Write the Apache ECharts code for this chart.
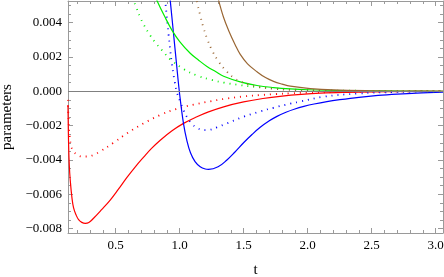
<!DOCTYPE html>
<html><head><meta charset="utf-8">
<script src="https://cdn.jsdelivr.net/npm/echarts@6/dist/echarts.min.js"></script>
<style>html,body{margin:0;padding:0;background:#fff}#c{width:444px;height:277px}</style>
</head><body><div id="c"></div>
<script>
// ---- data (t, value) ----
const redSolid = [[0.127,-0.0008],[0.132,-0.0031],[0.138,-0.0044],[0.145,-0.0052],[0.158,-0.0062],[0.171,-0.0068],[0.19,-0.0072],[0.21,-0.00748],[0.235,-0.00764],[0.262,-0.0077],[0.29,-0.00765],[0.327,-0.0074],[0.39,-0.0069],[0.457,-0.00634],[0.52,-0.00572],[0.588,-0.00502],[0.65,-0.00443],[0.718,-0.00384],[0.78,-0.00333],[0.848,-0.00285],[0.94,-0.0023],[1.03,-0.00187],[1.13,-0.0015],[1.225,-0.0012],[1.35,-0.00089],[1.499,-0.00062],[1.65,-0.00042],[1.8,-0.00028],[1.95,-0.00018],[2.1,-0.00011],[2.3,-0.00006],[2.5,-0.00003],[2.75,-0.00001],[3.057,0]];
const redDotted = [[0.127,-0.0005],[0.132,-0.0017],[0.14,-0.0026],[0.152,-0.0032],[0.171,-0.0035],[0.2,-0.0037],[0.24,-0.0038],[0.28,-0.0038],[0.33,-0.0037],[0.379,-0.0035],[0.483,-0.003],[0.588,-0.00245],[0.718,-0.00187],[0.848,-0.00138],[0.97,-0.00104],[1.108,-0.00078],[1.24,-0.00058],[1.369,-0.00042],[1.5,-0.0003],[1.629,-0.00022],[1.75,-0.00016],[1.864,-0.00012],[2.0,-0.00008],[2.2,-0.00005],[2.5,-0.00002],[2.8,-0.00001],[3.057,0]];
const blueSolid = [[0.915,0.0061],[0.926,0.0053],[0.95,0.0035],[0.975,0.0016],[1.0,-0.0002],[1.03,-0.0019],[1.057,-0.0029],[1.085,-0.0036],[1.12,-0.0041],[1.16,-0.0044],[1.2,-0.00453],[1.225,-0.00455],[1.3,-0.0044],[1.369,-0.004],[1.43,-0.00355],[1.499,-0.003],[1.565,-0.00252],[1.629,-0.0021],[1.7,-0.00172],[1.76,-0.00146],[1.83,-0.00122],[1.9,-0.00103],[1.97,-0.00088],[2.05,-0.00074],[2.15,-0.0006],[2.25,-0.00049],[2.4,-0.00035],[2.55,-0.00024],[2.7,-0.00016],[2.85,-0.0001],[3.057,-0.00005]];
const blueDotted = [[0.878,0.0061],[0.887,0.0053],[0.913,0.0033],[0.939,0.0016],[0.96,0.0006],[0.98,-0.0001],[1.004,-0.0006],[1.03,-0.0011],[1.057,-0.0015],[1.095,-0.0019],[1.135,-0.00213],[1.17,-0.00223],[1.213,-0.00226],[1.29,-0.0021],[1.369,-0.00187],[1.499,-0.00148],[1.629,-0.00117],[1.733,-0.00096],[1.864,-0.00072],[1.942,-0.0006],[2.12,-0.00032],[2.39,-0.00013],[2.7,-0.00004],[3.057,-0.00001]];
const greenSolid = [[0.8,0.0057],[0.822,0.0053],[0.88,0.0044],[0.939,0.00357],[1.0,0.0029],[1.082,0.00222],[1.15,0.0018],[1.213,0.00145],[1.28,0.00115],[1.343,0.00088],[1.473,0.00055],[1.604,0.00034],[1.733,0.00022],[1.864,0.00014],[2.0,0.00009],[2.3,0.00004],[2.6,0.00002],[3.057,0]];
const greenDotted = [[0.62,0.0058],[0.64,0.0053],[0.66,0.0049],[0.692,0.0043],[0.718,0.0039],[0.77,0.00325],[0.809,0.00285],[0.861,0.0024],[0.926,0.00187],[1.03,0.0013],[1.135,0.00092],[1.252,0.00066],[1.35,0.0005],[1.473,0.00036],[1.6,0.00025],[1.733,0.00017],[1.9,0.0001],[2.1,0.00006],[2.4,0.00003],[2.7,0.00001],[3.057,0]];
const brownSolid = [[1.29,0.0058],[1.304,0.0053],[1.343,0.0043],[1.382,0.00355],[1.434,0.0027],[1.473,0.00215],[1.53,0.0016],[1.604,0.00114],[1.67,0.0008],[1.733,0.00058],[1.8,0.00042],[1.864,0.0003],[2.02,0.00016],[2.2,0.00008],[2.5,0.00003],[2.8,0.00001],[3.057,0]];
const brownDotted = [[1.125,0.0056],[1.135,0.0052],[1.161,0.0044],[1.186,0.0037],[1.213,0.0031],[1.252,0.0024],[1.304,0.00173],[1.369,0.00114],[1.42,0.0008],[1.473,0.00058],[1.54,0.0004],[1.604,0.00028],[1.733,0.00015],[1.9,0.00007],[2.1,0.00003],[2.5,0.00001],[3.057,0]];

const xMajor = [0.5,1.0,1.5,2.0,2.5,3.0];
const xMinor = [0.2,0.3,0.4,0.6,0.7,0.8,0.9,1.1,1.2,1.3,1.4,1.6,1.7,1.8,1.9,2.1,2.2,2.3,2.4,2.6,2.7,2.8,2.9,3.0];
const yMajor = [-0.008,-0.006,-0.004,-0.002,0,0.002,0.004];
const yMinor = [-0.0075,-0.007,-0.0065,-0.0055,-0.005,-0.0045,-0.0035,-0.003,-0.0025,-0.0015,-0.001,-0.0005,0.0005,0.001,0.0015,0.0025,0.003,0.0035,0.0045,0.005];
const xRange = [0.1273, 3.057];
const yRange = [-0.00826, 0.005265];

const FONT = 'Liberation Serif';
const frameColor = '#9a9a9a';

function xAx(pos, ticks, len, labels, line, extra) {
  return Object.assign({
    type: 'value', position: pos, min: xRange[0], max: xRange[1],
    axisLine: {show: line, onZero: false, lineStyle: {color: frameColor, width: 1}},
    axisTick: {show: true, inside: true, length: len, customValues: ticks, lineStyle: {color: frameColor}},
    axisLabel: labels ? {show: true, customValues: ticks, margin: 6, color: '#000', fontFamily: FONT, fontSize: 13,
      formatter: v => v.toFixed(1)} : {show: false},
    splitLine: {show: false}
  }, extra || {});
}
function yAx(pos, ticks, len, labels, line, extra) {
  return Object.assign({
    type: 'value', position: pos, min: yRange[0], max: yRange[1],
    axisLine: {show: line, onZero: false, lineStyle: {color: frameColor, width: 1}},
    axisTick: {show: true, inside: true, length: len, customValues: ticks, lineStyle: {color: frameColor}},
    axisLabel: labels ? {show: true, customValues: ticks, margin: 6, color: '#000', fontFamily: FONT, fontSize: 13,
      formatter: v => v.toFixed(3).replace('-', '\u2212')} : {show: false},
    splitLine: {show: false}
  }, extra || {});
}

function ser(data, color, dotted) {
  return {
    type: 'line', data: data, xAxisIndex: 0, yAxisIndex: 0, showSymbol: false, symbol: 'none',
    smooth: 0.4, clip: true, animation: false,
    lineStyle: dotted ? {color: color, width: 1.8, type: [1, 5], cap: 'butt'} : {color: color, width: 1.2}
  };
}

const chart = echarts.init(document.getElementById('c'), null, {renderer: 'canvas'});
const s0 = ser(redSolid, '#ff0000', false);
s0.markLine = {silent: true, symbol: 'none', label: {show: false}, animation: false,
  lineStyle: {color: '#808080', width: 1, type: 'solid'}, data: [{yAxis: 0}]};
chart.setOption({
  animation: false,
  grid: {left: 68, right: 1, top: 1, bottom: 44, containLabel: false, outerBoundsMode: 'none'},
  xAxis: [
    xAx('bottom', xMajor, 5, true, true, {name: 't', nameLocation: 'middle', nameGap: 30, nameMoveOverlap: false,
      nameTextStyle: {color: '#000', fontFamily: FONT, fontSize: 15}}),
    xAx('bottom', xMinor, 3, false, false),
    xAx('top', xMajor, 5, false, true),
    xAx('top', xMinor, 3, false, false)
  ],
  yAxis: [
    yAx('left', yMajor, 5, true, true, {name: 'parameters', nameLocation: 'middle', nameGap: 53, nameRotate: 90, nameMoveOverlap: false,
      nameTextStyle: {color: '#000', fontFamily: FONT, fontSize: 15}}),
    yAx('left', yMinor, 3, false, false),
    yAx('right', yMajor, 5, false, true),
    yAx('right', yMinor, 3, false, false)
  ],
  series: [
    s0,
    ser(redDotted, '#ff0000', true),
    ser(blueSolid, '#0000ff', false),
    ser(blueDotted, '#0000ff', true),
    ser(greenSolid, '#00ee00', false),
    ser(greenDotted, '#00ee00', true),
    ser(brownSolid, '#996633', false),
    ser(brownDotted, '#996633', true)
  ]
});
</script></body></html>
